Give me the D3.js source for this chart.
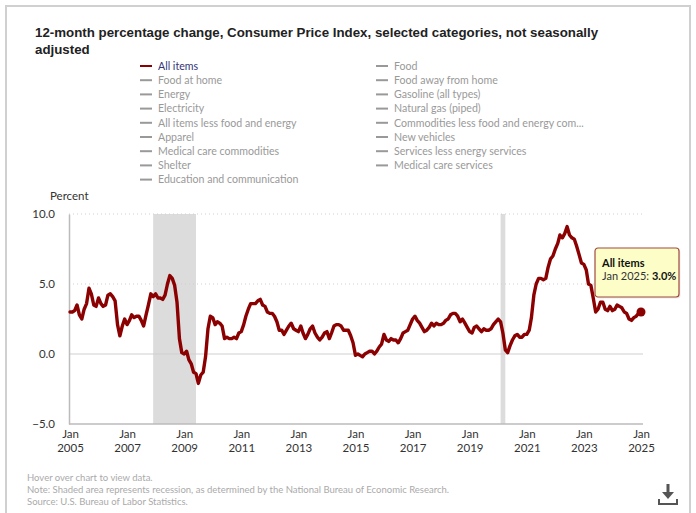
<!DOCTYPE html>
<html><head><meta charset="utf-8">
<script src="https://cdn.jsdelivr.net/npm/d3@7"></script>
<style>
html,body{margin:0;padding:0;background:#fff;}
svg{display:block;}
</style>
</head><body>
<svg id="chart" width="696" height="513"></svg>
<script>
// ---- Data ----
const startYear = 2005;
const allItems = [
  // 2005
  3.0, 3.0, 3.1, 3.5, 2.8, 2.5, 3.2, 3.6, 4.7, 4.3, 3.5, 3.4,
  // 2006
  4.0, 3.6, 3.4, 3.5, 4.2, 4.3, 4.1, 3.8, 2.1, 1.3, 2.0, 2.5,
  // 2007
  2.1, 2.4, 2.8, 2.6, 2.7, 2.7, 2.4, 2.0, 2.8, 3.5, 4.3, 4.1,
  // 2008
  4.3, 4.0, 4.0, 3.9, 4.2, 5.0, 5.6, 5.4, 4.9, 3.7, 1.1, 0.1,
  // 2009
  0.0, 0.2, -0.4, -0.7, -1.3, -1.4, -2.1, -1.5, -1.3, -0.2, 1.8, 2.7,
  // 2010
  2.6, 2.1, 2.3, 2.2, 2.0, 1.1, 1.2, 1.1, 1.1, 1.2, 1.1, 1.5,
  // 2011
  1.6, 2.1, 2.7, 3.2, 3.6, 3.6, 3.6, 3.8, 3.9, 3.5, 3.4, 3.0,
  // 2012
  2.9, 2.9, 2.7, 2.3, 1.7, 1.7, 1.4, 1.7, 2.0, 2.2, 1.8, 1.7,
  // 2013
  1.6, 2.0, 1.5, 1.1, 1.4, 1.8, 2.0, 1.5, 1.2, 1.0, 1.2, 1.5,
  // 2014
  1.6, 1.1, 1.5, 2.0, 2.1, 2.1, 2.0, 1.7, 1.7, 1.7, 1.3, 0.8,
  // 2015
  -0.1, 0.0, -0.1, -0.2, 0.0, 0.1, 0.2, 0.2, 0.0, 0.2, 0.5, 0.7,
  // 2016
  1.4, 1.0, 0.9, 1.1, 1.0, 1.0, 0.8, 1.1, 1.5, 1.6, 1.7, 2.1,
  // 2017
  2.5, 2.7, 2.4, 2.2, 1.9, 1.6, 1.7, 1.9, 2.2, 2.0, 2.2, 2.1,
  // 2018
  2.1, 2.2, 2.4, 2.5, 2.8, 2.9, 2.9, 2.7, 2.3, 2.5, 2.2, 1.9,
  // 2019
  1.6, 1.5, 1.9, 2.0, 1.8, 1.6, 1.8, 1.7, 1.7, 1.8, 2.1, 2.3,
  // 2020
  2.5, 2.3, 1.5, 0.3, 0.1, 0.6, 1.0, 1.3, 1.4, 1.2, 1.2, 1.4,
  // 2021
  1.4, 1.7, 2.6, 4.2, 5.0, 5.4, 5.4, 5.3, 5.4, 6.2, 6.8, 7.0,
  // 2022
  7.5, 7.9, 8.5, 8.3, 8.6, 9.1, 8.5, 8.3, 8.2, 7.7, 7.1, 6.5,
  // 2023
  6.4, 6.0, 5.0, 4.9, 4.0, 3.0, 3.2, 3.7, 3.7, 3.2, 3.1, 3.4,
  // 2024
  3.1, 3.2, 3.5, 3.4, 3.3, 3.0, 2.9, 2.5, 2.4, 2.6, 2.7, 2.9,
  // 2025
  3.0
];
const legendLeft = ["All items","Food at home","Energy","Electricity","All items less food and energy","Apparel","Medical care commodities","Shelter","Education and communication"];
const legendRight = ["Food","Food away from home","Gasoline (all types)","Natural gas (piped)","Commodities less food and energy com...","New vehicles","Services less energy services","Medical care services"];
const yTicks = [-5, 0, 5, 10];
const xTickYears = [2005,2007,2009,2011,2013,2015,2017,2019,2021,2023,2025];
const recessions = [["2007-12-01","2009-06-01"],["2020-02-01","2020-04-01"]];
const titleLines = ["12-month percentage change, Consumer Price Index, selected categories, not seasonally","adjusted"];
const footerLines = ["Hover over chart to view data.","Note: Shaded area represents recession, as determined by the National Bureau of Economic Research.","Source: U.S. Bureau of Labor Statistics."];

const series = allItems.map((v,i)=>({date:new Date(startYear, i, 1), value:v}));

// ---- Drawing ----
const svg = d3.select("#chart");
const FONT = "Lato, 'Open Sans', sans-serif";

svg.append("rect").attr("x",6).attr("y",6).attr("width",684).attr("height",520)
  .attr("fill","#fff").attr("stroke","#d0d0d0").attr("stroke-width",2);

// Title
svg.append("g").selectAll("text").data(titleLines).join("text")
  .attr("x",35).attr("y",(d,i)=>37+i*17)
  .attr("font-family","'Liberation Sans', Arial, sans-serif")
  .attr("font-weight","bold").attr("font-size",13.3).attr("fill","#222")
  .text(d=>d);

// Legend
function legendCol(items, x0){
  const g = svg.append("g");
  const rows = g.selectAll("g").data(items).join("g")
    .attr("transform",(d,i)=>`translate(${x0},${66+i*14.2})`);
  rows.append("line").attr("x1",0).attr("x2",12).attr("y1",0).attr("y2",0)
    .attr("stroke",d=>d==="All items"?"#8b0000":"#999").attr("stroke-width",2);
  rows.append("text").attr("x",18).attr("y",0).attr("dy","0.35em")
    .attr("font-family",FONT).attr("font-size",10.6)
    .attr("fill",d=>d==="All items"?"#333377":"#999")
    .text(d=>d);
}
legendCol(legendLeft, 140);
legendCol(legendRight, 376);

// Scales
const x = d3.scaleTime().domain([new Date(2005,0,1), new Date(2025,0,1)]).range([70, 641]);
const y = d3.scaleLinear().domain([-5, 10]).range([424, 214]);
const plotLeft = 69, plotRight = 643;

// Percent label
svg.append("text").attr("x",50).attr("y",196).attr("dy","0.35em")
  .attr("font-family",FONT).attr("font-size",11.5).attr("fill","#333").text("Percent");

// Recession shading
svg.append("g").selectAll("rect").data(recessions).join("rect")
  .attr("x",d=>x(new Date(d[0])))
  .attr("width",d=>x(new Date(d[1]))-x(new Date(d[0])))
  .attr("y",y(10)).attr("height",y(-5)-y(10))
  .attr("fill","#dcdcdc");

// Grid lines
const grid = svg.append("g");
grid.selectAll("line").data(yTicks.filter(t=>t!==-5)).join("line")
  .attr("x1",plotLeft).attr("x2",plotRight)
  .attr("y1",d=>y(d)).attr("y2",d=>y(d))
  .attr("stroke","#cfcfcf").attr("stroke-width",1)
  .attr("stroke-dasharray",d=>d===0?null:"1,3");

// Y axis
const yAxis = d3.axisLeft(y).tickValues(yTicks).tickFormat(d3.format(".1f")).tickSize(0).tickPadding(14);
const gy = svg.append("g").attr("transform",`translate(${plotLeft},0)`).call(yAxis);
gy.select(".domain").attr("stroke","#bbb").attr("stroke-width",1.5);
gy.selectAll("text").attr("font-family",FONT).attr("font-size",11.5).attr("fill","#333");

// X axis
const xAxis = d3.axisBottom(x).tickValues(xTickYears.map(yr=>new Date(yr,0,1))).tickSize(0).tickFormat(()=>"");
const gx = svg.append("g").attr("transform",`translate(0,${y(-5)})`).call(xAxis);
gx.select(".domain").attr("d",`M${plotLeft},0H${plotRight}`).attr("stroke","#bbb").attr("stroke-width",1.5);
gx.selectAll(".tick").each(function(d){
  const t = d3.select(this);
  t.append("text").attr("y",14).attr("text-anchor","middle")
    .attr("font-family",FONT).attr("font-size",11.5).attr("fill","#333").text("Jan");
  t.append("text").attr("y",28).attr("text-anchor","middle")
    .attr("font-family",FONT).attr("font-size",11.5).attr("fill","#333").text(d.getFullYear());
});

// Line
const line = d3.line().x(d=>x(d.date)).y(d=>y(d.value));
svg.append("path").datum(series).attr("d",line)
  .attr("fill","none").attr("stroke","#8b0000").attr("stroke-width",3.4)
  .attr("stroke-linejoin","round").attr("stroke-linecap","round");

// End marker
const last = series[series.length-1];
svg.append("circle").attr("cx",x(last.date)).attr("cy",y(last.value)).attr("r",4.5)
  .attr("fill","#8b0000");

// Tooltip
const tip = svg.append("g").attr("transform","translate(595,248)");
tip.append("rect").attr("x",1.5).attr("y",1.5).attr("width",84).attr("height",49).attr("rx",3)
  .attr("fill","#000").attr("opacity",0.08);
tip.append("rect").attr("width",84).attr("height",49).attr("rx",3)
  .attr("fill","#fdfdc8").attr("stroke","#a04a3a").attr("stroke-width",1.2);
tip.append("text").attr("x",7).attr("y",15).attr("dy","0.35em")
  .attr("font-family",FONT).attr("font-size",11).attr("font-weight","bold").attr("fill","#111").text("All items");
const t2 = tip.append("text").attr("x",7).attr("y",28).attr("dy","0.35em")
  .attr("font-family",FONT).attr("font-size",11).attr("fill","#333");
const fmtMonth = d3.timeFormat("%b %Y");
t2.append("tspan").text(fmtMonth(last.date)+": ");
t2.append("tspan").attr("font-weight","bold").attr("fill","#111").text(last.value.toFixed(1)+"%");

// Footer
svg.append("g").selectAll("text").data(footerLines).join("text")
  .attr("x",27).attr("y",(d,i)=>478+i*12).attr("dy","0.35em")
  .attr("font-family",FONT).attr("font-size",9.5).attr("fill","#aaa")
  .text(d=>d);

// Download icon
const ic = svg.append("g").attr("transform","translate(668,496)").attr("fill","#555").attr("stroke","#555");
ic.append("rect").attr("x",-1.5).attr("y",-12).attr("width",3).attr("height",9).attr("stroke","none");
ic.append("path").attr("d","M-6,-4 L6,-4 L0,3 Z").attr("stroke","none");
ic.append("path").attr("d","M-9,3 V8 H9 V3").attr("fill","none").attr("stroke-width",2);
</script>
</body></html>
